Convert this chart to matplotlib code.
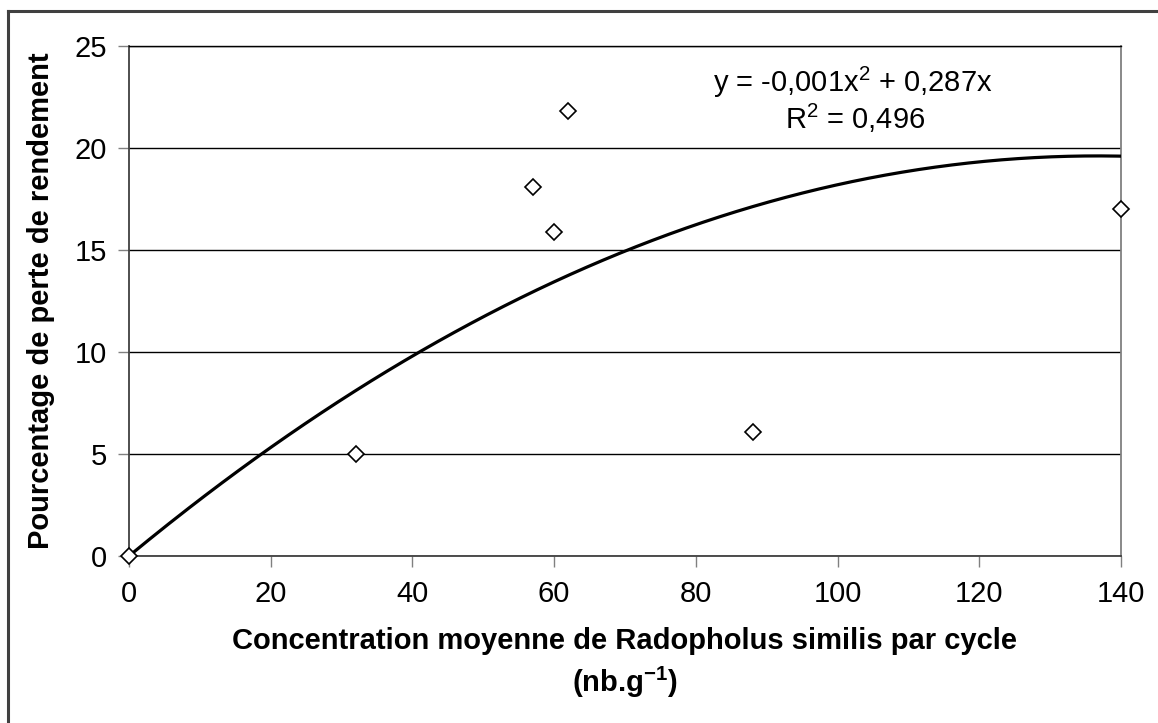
import matplotlib.pyplot as plt
import numpy as np
from matplotlib.lines import Line2D

plt.rcParams['font.family'] = ['Liberation Sans', 'DejaVu Sans']
plt.rcParams['mathtext.fontset'] = 'custom'
plt.rcParams['mathtext.rm'] = 'Liberation Sans'
plt.rcParams['mathtext.bf'] = 'Liberation Sans:bold'

# Observed points
concentration = [0, 32, 57, 60, 62, 88, 140]
perte = [0, 5.0, 18.1, 15.9, 21.8, 6.1, 17.0]

# Polynomial trend (order 2, through origin), as drawn
coef_a = -0.00105
coef_b = 0.287

fig = plt.figure(figsize=(11.58, 7.23), dpi=100)
ax = fig.add_axes([129 / 1158, 1 - 556 / 723, (1121 - 129) / 1158, (556 - 46) / 723])

# outer chart border (only top and left visible in the crop)
fig.add_artist(Line2D([8 / 1158, 8 / 1158], [0, 1 - 11 / 723], transform=fig.transFigure,
                      color='#404040', lw=2.2))
fig.add_artist(Line2D([8 / 1158, 1], [1 - 11 / 723, 1 - 11 / 723], transform=fig.transFigure,
                      color='#404040', lw=2.2))

xs = np.linspace(0, 140, 300)
ax.plot(xs, coef_a * xs ** 2 + coef_b * xs, color='black', lw=2.3, zorder=3)
ax.plot(concentration, perte, linestyle='none', marker='D', markersize=8.3,
        markerfacecolor='white', markeredgecolor='black', markeredgewidth=1.2,
        zorder=4, clip_on=False)

ax.set_xlim(0, 140)
ax.set_ylim(0, 25)
ax.set_xticks(range(0, 141, 20))
ax.set_yticks(range(0, 26, 5))
ax.yaxis.grid(True, color='black', lw=1)
ax.set_axisbelow(True)

for side in ['left', 'bottom']:
    ax.spines[side].set_color('#404040')
    ax.spines[side].set_linewidth(1.3)
ax.spines['right'].set_color('#808080')
ax.spines['right'].set_linewidth(1.3)
ax.spines['top'].set_color('black')
ax.spines['top'].set_linewidth(1)

ax.tick_params(axis='both', direction='out', length=8, width=1, color='#808080',
               labelsize=21, pad=8)
ax.tick_params(axis='x', pad=9)

ax.set_ylabel('Pourcentage de perte de rendement', fontsize=21, fontweight='bold',
              labelpad=14)
ax.set_xlabel('Concentration moyenne de Radopholus similis par cycle\n(nb.g$^{\\mathbf{-1}}$)',
              fontsize=21, fontweight='bold', labelpad=14, linespacing=1.35)

ax.text(853 / 1158, 1 - 82 / 723, 'y = -0,001x$^2$ + 0,287x', transform=fig.transFigure,
        ha='center', va='center', fontsize=21)
ax.text(855 / 1158, 1 - 118 / 723, 'R$^2$ = 0,496', transform=fig.transFigure,
        ha='center', va='center', fontsize=21)

fig.savefig('out.png', dpi=100)
